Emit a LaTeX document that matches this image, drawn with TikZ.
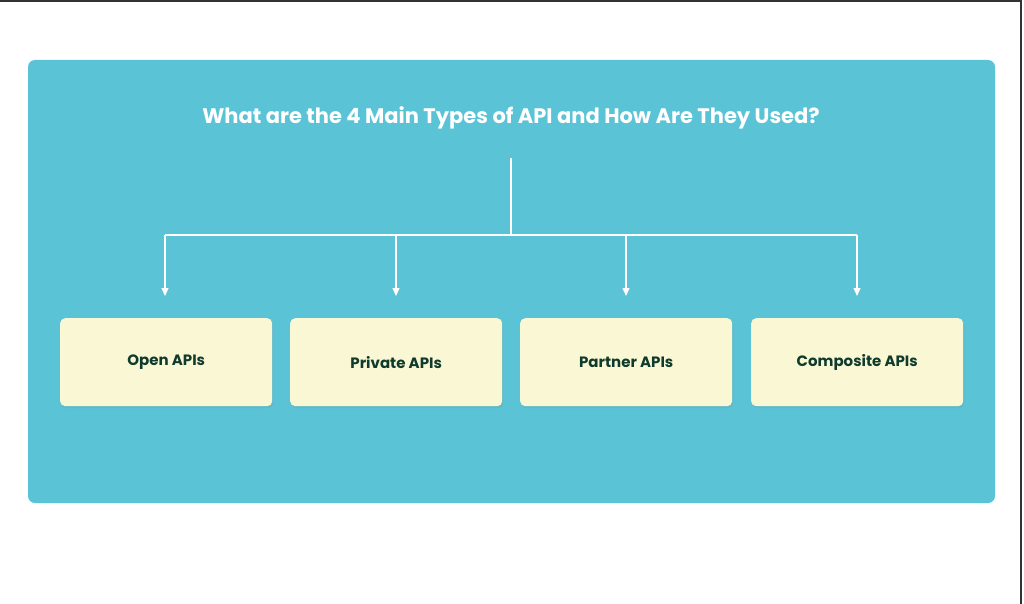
\documentclass[tikz,border=0pt]{standalone}
\usepackage{fontspec}
\setmainfont{Poppins}
\usetikzlibrary{arrows.meta,shadows}
\definecolor{teal}{HTML}{5AC3D6}
\definecolor{cream}{HTML}{FAF8D4}
\definecolor{ink}{HTML}{0F3A2C}
\tikzset{x=1pt,y=-1pt,
 typebox/.style={fill=cream,rounded corners=5pt,minimum width=212pt,minimum height=88pt,anchor=north west,font=\fontsize{15}{18}\selectfont\bfseries,text=ink,drop shadow={shadow xshift=1pt,shadow yshift=-2pt,opacity=0.15}},
 link/.style={draw=white,line width=1.2pt},
 arr/.style={link,-{Triangle[width=7pt,length=8pt]}}}
\begin{document}
\begin{tikzpicture}
\useasboundingbox (0,0) rectangle (1024,604);
\fill[white] (0,0) rectangle (1024,604);
\draw[black!80,line width=2pt] (0,1) -- (1021,1) -- (1021,604);
\fill[teal,rounded corners=7pt] (28,60) rectangle (995,503);
\node[font=\fontsize{21}{25}\selectfont\bfseries,text=white] (title) at (511,118) {What are the 4 Main Types of API and How Are They Used?};
\coordinate (top) at (511,158);
\coordinate (hub) at (511,235);
\node[typebox] (b1) at (60,318) {Open APIs};
\node[typebox] (b2) at (290,318) {Private APIs};
\node[typebox] (b3) at (520,318) {Partner APIs};
\node[typebox] (b4) at (751,318) {Composite APIs};
\coordinate (h1) at (165,235); \coordinate (h4) at (857,235);
\draw[link] (top) -- (hub);
\draw[link] (h1) -- (h4);
\foreach \i/\x in {1/165,2/396,3/626,4/857}{
 \coordinate (e\i) at (\x,296);
 \draw[arr] (\x,235) -- (e\i);}
\end{tikzpicture}
\end{document}
